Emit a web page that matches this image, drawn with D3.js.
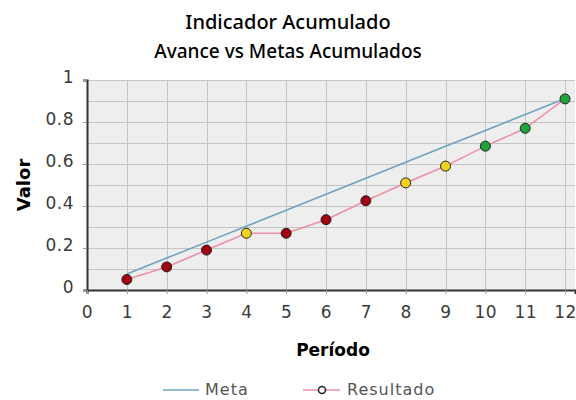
<!DOCTYPE html>
<html>
<head>
<meta charset="utf-8">
<script src="https://cdn.jsdelivr.net/npm/d3@7"></script>
<style>
  body { margin: 0; background: #fff; }
  svg { display: block; }
</style>
</head>
<body>
<script>
// datos del gráfico
const periodos = [1, 2, 3, 4, 5, 6, 7, 8, 9, 10, 11, 12];
const meta = [0.076, 0.152, 0.228, 0.304, 0.38, 0.456, 0.532, 0.608, 0.684, 0.76, 0.836, 0.912];
const resultado = [0.05, 0.11, 0.19, 0.27, 0.27, 0.335, 0.425, 0.51, 0.59, 0.685, 0.77, 0.91];
const estado = ["r", "r", "r", "y", "r", "r", "r", "y", "y", "g", "g", "g"];
const xTicks = [0, 1, 2, 3, 4, 5, 6, 7, 8, 9, 10, 11, 12];
const yTicks = [0, 0.2, 0.4, 0.6, 0.8, 1];

const width = 576, height = 400;
const margin = {top: 80, right: 1, bottom: 110, left: 87};

const estadoColor = {r: "#a0000f", y: "#f2d21c", g: "#1fa33a"};

const svg = d3.select("body").append("svg")
    .attr("width", width)
    .attr("height", height);

const x = d3.scaleLinear()
    .domain([0, 12.25])
    .range([margin.left, width - margin.right]);

const y = d3.scaleLinear()
    .domain([0, 1])
    .range([height - margin.bottom, margin.top]);

// títulos
svg.append("text")
    .attr("x", 288).attr("y", 29)
    .attr("text-anchor", "middle")
    .style("font-family", "Noto Sans")
    .style("font-weight", 500)
    .style("font-size", "20px")
    .text("Indicador Acumulado");

svg.append("text")
    .attr("x", 288).attr("y", 58)
    .attr("text-anchor", "middle")
    .style("font-family", "Noto Sans")
    .style("font-weight", 500)
    .style("font-size", "19px")
    .text("Avance vs Metas Acumulados");

// fondo
svg.append("rect")
    .attr("x", x(0)).attr("y", y(1))
    .attr("width", x.range()[1] - x(0))
    .attr("height", y(0) - y(1))
    .attr("fill", "#eeeeee");

// rejilla
const grid = svg.append("g").attr("stroke", "#c4c4c4").attr("stroke-width", 1);
grid.selectAll(".gy")
    .data(d3.range(1, 11).map(d => d / 10))
    .join("line")
    .attr("x1", x(0)).attr("x2", x.range()[1])
    .attr("y1", d => Math.round(y(d)) + 0.5)
    .attr("y2", d => Math.round(y(d)) + 0.5);
grid.selectAll(".gx")
    .data(periodos)
    .join("line")
    .attr("y1", y(0)).attr("y2", y(1))
    .attr("x1", d => Math.round(x(d)) + 0.5)
    .attr("x2", d => Math.round(x(d)) + 0.5);

// ejes
const tickFont = g => g.selectAll("text")
    .style("font-family", "DejaVu Sans")
    .style("font-size", "17px")
    .style("letter-spacing", "0.5px")
    .attr("fill", "#3a3a3a");

const yAxis = svg.append("g")
    .attr("transform", `translate(${x(0)},0)`)
    .call(d3.axisLeft(y).tickValues(yTicks).tickFormat(d3.format("~g")).tickSize(4).tickPadding(9))
    .call(tickFont);
yAxis.select(".domain").attr("stroke", "#333").attr("stroke-width", 2);
yAxis.selectAll(".tick line").attr("stroke", "#999");
yAxis.selectAll(".tick text").attr("dy", "0.12em");

const xAxis = svg.append("g")
    .attr("transform", `translate(0,${y(0)})`)
    .call(d3.axisBottom(x).tickValues(xTicks).tickSize(4).tickPadding(12))
    .call(tickFont);
xAxis.select(".domain").attr("stroke", "#333").attr("stroke-width", 2);
xAxis.selectAll(".tick line").attr("stroke", "#999");

svg.append("text")
    .attr("transform", `translate(30,${(y(0) + y(1)) / 2}) rotate(-90)`)
    .attr("text-anchor", "middle")
    .style("font-family", "DejaVu Sans")
    .style("font-weight", "bold")
    .style("font-size", "18px")
    .text("Valor");

svg.append("text")
    .attr("x", 333).attr("y", 356)
    .attr("text-anchor", "middle")
    .style("font-family", "DejaVu Sans")
    .style("font-weight", "bold")
    .style("font-size", "17px")
    .text("Período");

// líneas
const line = d3.line()
    .x(d => x(d[0]))
    .y(d => y(d[1]));

svg.append("path")
    .datum(d3.zip(periodos, meta))
    .attr("d", line)
    .attr("fill", "none")
    .attr("stroke", "#6fa3bd")
    .attr("stroke-width", 1.6);

svg.append("path")
    .datum(d3.zip(periodos, resultado))
    .attr("d", line)
    .attr("fill", "none")
    .attr("stroke", "#ec8fa8")
    .attr("stroke-width", 1.6);

svg.selectAll(".pt")
    .data(d3.zip(periodos, resultado, estado))
    .join("circle")
    .attr("cx", d => x(d[0]))
    .attr("cy", d => y(d[1]))
    .attr("r", 5)
    .attr("fill", d => estadoColor[d[2]])
    .attr("stroke", "#222")
    .attr("stroke-width", 1);

// leyenda
const leg = svg.append("g")
    .style("font-family", "DejaVu Sans")
    .style("font-size", "16px")
    .style("letter-spacing", "1px")
    .attr("fill", "#555");

leg.append("line")
    .attr("x1", 163).attr("x2", 199).attr("y1", 390).attr("y2", 390)
    .attr("stroke", "#6fa3bd").attr("stroke-width", 1.6);
leg.append("text").attr("x", 205).attr("y", 395).text("Meta");

leg.append("line")
    .attr("x1", 303).attr("x2", 340).attr("y1", 390).attr("y2", 390)
    .attr("stroke", "#ec8fa8").attr("stroke-width", 1.6);
leg.append("circle")
    .attr("cx", 322).attr("cy", 390).attr("r", 3.5)
    .attr("fill", "#fff").attr("stroke", "#222").attr("stroke-width", 1.5);
leg.append("text").attr("x", 347).attr("y", 395).text("Resultado");
</script>
</body>
</html>
